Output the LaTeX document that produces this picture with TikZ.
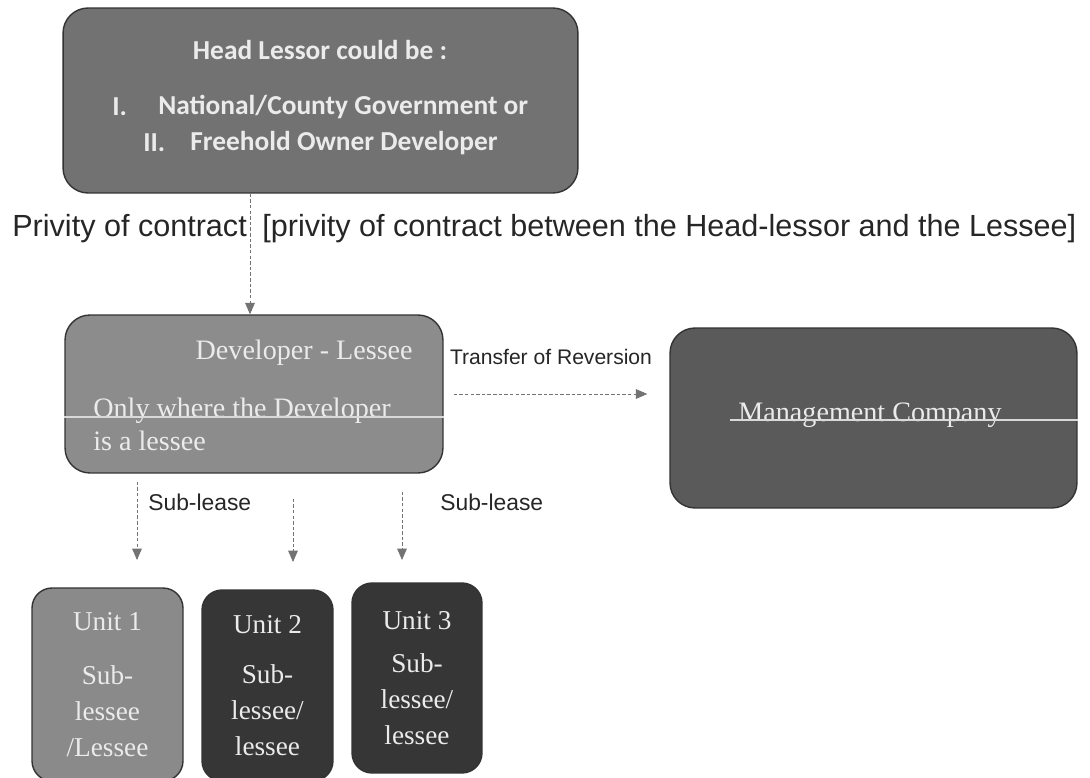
\documentclass[tikz,border=0pt]{standalone}
\usepackage{fontspec}
\setmainfont{Liberation Serif}
\newfontfamily\calibri{Carlito}
\newfontfamily\arial{Liberation Sans}
\usetikzlibrary{arrows.meta}
\definecolor{headgrey}{HTML}{727272}
\definecolor{devgrey}{HTML}{8C8C8C}
\definecolor{mgmtgrey}{HTML}{5A5A5A}
\definecolor{unitlight}{HTML}{8A8A8A}
\definecolor{unitdark}{HTML}{363636}

\begin{document}
\begin{tikzpicture}[x=0.02cm, y=-0.02cm,
    roundbox/.style={draw=black!80, line width=0.8pt, rounded corners=0.5cm, inner sep=0pt},
    unitbox/.style={roundbox, rounded corners=0.4cm, text=white!92!black, align=center,
      font=\fontsize{15.5}{20.5}\selectfont},
    intext/.style={text=white!92!black, inner sep=0pt},
    headtext/.style={intext, font=\calibri\bfseries\fontsize{15.6}{19}\selectfont},
    link/.style={draw=black!55, line width=0.5pt, dash pattern=on 2pt off 1.2pt,
      -{Triangle[width=5.5pt,length=6.5pt]}},
    note/.style={inner sep=0pt, text=black!85}]
  \useasboundingbox (0,0) rectangle (1090,778);
  \clip (0,0) rectangle (1090,778);
  % Head lessor
  \node[roundbox, fill=headgrey, minimum width=10.3cm, minimum height=3.7cm] (head) at (320.5,100.5) {};
  \node[headtext] (headtitle) at (320,50) {Head Lessor could be :};
  \node[headtext, anchor=west] (roman1) at (112,107) {I.};
  \node[headtext, anchor=west] (govt) at (158,107) {National/County Government or};
  \node[headtext, anchor=west] (roman2) at (143,143) {II.};
  \node[headtext, anchor=west] (freehold) at (190,143) {Freehold Owner Developer};
  % Privity of contract
  \node[note, font=\arial\fontsize{17.4}{20}\selectfont, anchor=west] (privity) at (12,229) {Privity of contract};
  \node[note, font=\arial\fontsize{17.4}{20}\selectfont, anchor=west] (privitynote) at (262,229)
    {[privity of contract between the Head-lessor and the Lessee]};
  % Developer - lessee
  \node[roundbox, fill=devgrey, minimum width=7.56cm, minimum height=3.16cm] (dev) at (254,394) {};
  \node[intext, font=\fontsize{16}{19}\selectfont, anchor=east] (devtitle) at (413,353) {Developer - Lessee};
  \node[intext, font=\fontsize{16}{19}\selectfont, anchor=west] (devnote1) at (93,411) {Only where the Developer};
  \node[intext, font=\fontsize{16}{19}\selectfont, anchor=west] (devnote2) at (93,441) {is a lessee};
  \draw[white!85!black, line width=0.6pt] (dev.west |- 0,417) -- (dev.east |- 0,417);
  % Management company
  \node[roundbox, fill=mgmtgrey, minimum width=8.14cm, minimum height=3.6cm] (mgmt) at (873.5,418) {};
  \node[intext, font=\fontsize{16}{19}\selectfont] (mgmttitle) at (870,415) {Management Company};
  \draw[white!85!black, line width=0.6pt] (730,420) -- (mgmt.east |- 0,420);
  \node[note, font=\arial\fontsize{12}{14}\selectfont] (transfer) at (551,357) {Transfer of Reversion};
  % Units
  \node[unitbox, fill=unitlight, minimum width=3.02cm, minimum height=3.86cm] (unit1) at (107.5,684.5)
    {Unit 1\\[10pt]Sub-\\lessee\\/Lessee};
  \node[unitbox, fill=unitdark, minimum width=2.62cm, minimum height=3.82cm] (unit2) at (267.5,685.5)
    {Unit 2\\[8pt]Sub-\\lessee/\\lessee};
  \node[unitbox, fill=unitdark, minimum width=2.6cm, minimum height=3.8cm] (unit3) at (417,678)
    {Unit 3\\[4pt]Sub-\\lessee/\\lessee};
  \node[note, font=\arial\fontsize{13}{15}\selectfont, anchor=west] (sublease1) at (148,502) {Sub-lease};
  \node[note, font=\arial\fontsize{13}{15}\selectfont, anchor=west] (sublease2) at (440,502) {Sub-lease};
  % Connectors
  \coordinate (lease1) at (137,560);
  \coordinate (lease2) at (293,562);
  \coordinate (lease3) at (402,560);
  \draw[link] (250,0 |- head.south) -- (250,0 |- dev.north);
  \draw[link, shorten <=0.2cm, shorten >=0.44cm] (dev.east) -- (mgmt.west |- dev.east);
  \draw[link, shorten <=0.16cm] (dev.south -| lease1) -- (lease1);
  \draw[link, shorten <=0.5cm] (dev.south -| lease2) -- (lease2);
  \draw[link, shorten <=0.36cm] (dev.south -| lease3) -- (lease3);
\end{tikzpicture}
\end{document}
